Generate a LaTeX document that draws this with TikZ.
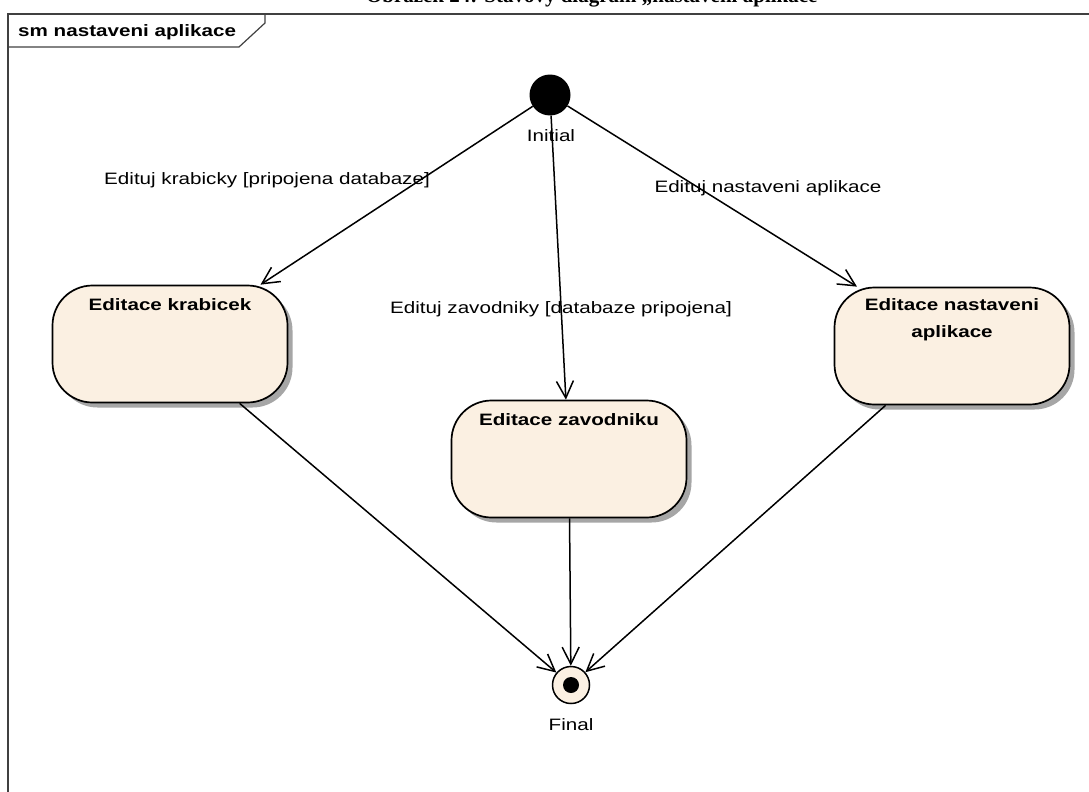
\documentclass[tikz,border=0pt]{standalone}
\usepackage{fontspec}
\usetikzlibrary{arrows.meta}
\newfontfamily\umlfont[FakeStretch=1.25]{Liberation Sans}
\newfontfamily\capfont{Liberation Serif}
\definecolor{statefill}{HTML}{FBF0E2}
\definecolor{framegray}{HTML}{404040}
\tikzset{
  umltext/.style={font=\umlfont\fontsize{16.5}{20}\selectfont, inner sep=0pt},
  umlbold/.style={font=\umlfont\bfseries\fontsize{16.5}{20}\selectfont, inner sep=0pt},
  statebox/.style={draw=black, line width=1.7pt, fill=statefill, rounded corners=40pt,
    minimum width=235pt, minimum height=117pt, inner sep=0pt},
  stateshadow/.style={fill=black!35, rounded corners=40pt, draw=none,
    minimum width=235pt, minimum height=117pt, inner sep=0pt},
  trans/.style={line width=1.5pt, -{Straight Barb[length=17pt,width=17pt,line width=1.5pt]}},
}
\begin{document}
\begin{tikzpicture}[x=1pt,y=-1pt]
\path[use as bounding box, clip] (0,0) rectangle (1089,792);

% caption above the frame
\node[font=\capfont\bfseries\fontsize{21}{25}\selectfont, anchor=base, inner sep=0pt] (caption)
  at (597,3) {Obrázek 24: Stavový diagram „nastavení aplikace“};

% diagram frame with its name tab
\draw[framegray, line width=1.6pt] (8,800) -- (8,14) -- (1100,14);
\draw[framegray, line width=1.2pt] (8,47) -- (239,47) -- (265,23) -- (265,14);
\node[umlbold, anchor=base west] (frametitle) at (18,37) {sm nastaveni aplikace};

% states (shadows first)
\node[stateshadow] at (175,349) {};
\node[stateshadow] at (574,464) {};
\node[stateshadow] at (957,351) {};
\node[statebox] (krab) at (170,344) {};
\node[statebox] (zavod) at (569,459) {};
\node[statebox] (nast) at (952,346) {};
\node[umlbold, anchor=base] (krabt) at (170,310) {Editace krabicek};
\node[umlbold, anchor=base] (zavodt) at (569,425) {Editace zavodniku};
\node[umlbold, anchor=base] (nastt) at (952,310) {Editace nastaveni};
\node[umlbold, anchor=base] (nastt2) at (952,337) {aplikace};

% pseudo-states
\node[circle, fill=black, minimum size=41pt, inner sep=0pt] (init) at (550,95) {};
\node[umltext, anchor=base] (initl) at (551,141) {Initial};
\node[circle, draw=black, line width=1.5pt, fill=statefill, minimum size=37pt, inner sep=0pt] (final) at (571,685) {};
\node[circle, fill=black, minimum size=16pt, inner sep=0pt] (finaldot) at (final) {};
\node[umltext, anchor=base] (finall) at (571,730) {Final};

% transitions
\draw[trans] (init) -- (krab);
\draw[trans] (init) -- (zavod);
\draw[trans] (init) -- (nast);
\draw[trans] (krab) -- (final);
\draw[trans] (zavod) -- (final);
\draw[trans] (nast) -- (final);

% transition labels
\node[umltext, anchor=base] (lkrab) at (267,184) {Edituj krabicky [pripojena databaze]};
\node[umltext, anchor=base] (lzavod) at (561,313) {Edituj zavodniky [databaze pripojena]};
\node[umltext, anchor=base] (lnast) at (768,192) {Edituj nastaveni aplikace};
\end{tikzpicture}
\end{document}
